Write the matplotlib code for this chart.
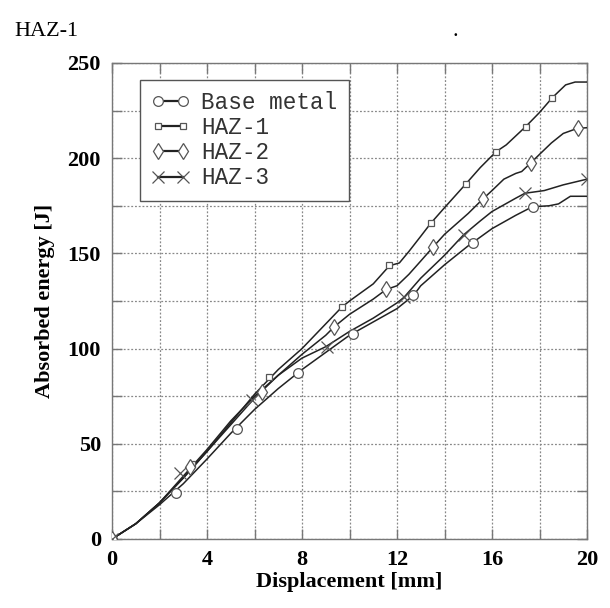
import matplotlib
matplotlib.use("Agg")
import matplotlib.pyplot as plt
from matplotlib.ticker import MultipleLocator

# ---- data ----
base_x = [0, 1, 2, 3, 4, 5, 6, 7, 8, 9, 10, 11, 12, 12.7, 13, 14, 15, 16, 17, 17.7, 18.4, 18.8, 19.3, 20]
base_y = [0, 8, 18, 29, 42, 55.5, 68, 79, 89, 98, 107, 114, 121, 128, 133, 144, 154, 163, 170, 174.5, 175, 176, 180, 180]
base_mx = [0, 2.69, 5.25, 7.82, 10.13, 12.69, 15.19, 17.71]
base_my = [0, 24.3, 58, 87.3, 107.5, 128.2, 155.3, 174.5]

haz1_x = [0, 1, 2, 3, 4, 5, 6, 7, 8, 9, 9.67, 10, 11, 11.68, 12.1, 12.5, 13, 13.42, 14, 14.9, 15.5, 16.17, 16.6, 17.42, 18, 18.54, 19.1, 19.5, 20]
haz1_y = [0, 8, 19, 32, 46, 61, 76, 89, 100, 113, 121.7, 125, 134, 143.5, 145, 151, 159, 165.8, 174, 186.5, 195, 203.4, 207, 216.6, 224, 231.8, 238.5, 240, 240]
haz1_mx = [0, 3.36, 6.62, 9.67, 11.68, 13.42, 14.9, 16.17, 17.42, 18.54]
haz1_my = [0, 39.2, 85.2, 121.7, 143.9, 165.8, 186.5, 203.4, 216.6, 231.8]

haz2_x = [0, 1, 2, 3, 4, 5, 6, 7, 8, 9, 9.36, 10, 11, 11.54, 12, 12.5, 13, 13.53, 14, 15, 15.6, 16, 16.5, 17, 17.25, 17.64, 18, 18.5, 19, 19.6, 20]
haz2_y = [0, 8, 19, 32, 46, 60, 74, 86, 97, 107, 111.5, 118, 126, 131, 133, 139, 146, 153.5, 160, 171, 178.4, 183, 189, 192, 193, 197.6, 202, 208, 213, 215.7, 216]
haz2_mx = [0, 3.3, 6.3, 9.36, 11.54, 13.53, 15.6, 17.64, 19.6]
haz2_my = [0, 38, 77, 111.5, 131.1, 153.5, 178.4, 197.6, 215.7]

haz3_x = [0, 1, 2, 3, 4, 5, 6, 7, 8, 9, 10, 11, 12, 12.3, 13, 14, 14.8, 15.5, 16, 17, 17.39, 18.2, 19, 20]
haz3_y = [0, 8, 19, 33, 47, 62, 75, 86, 95, 101, 109, 116, 124, 127, 137, 149, 159.7, 167, 172, 179, 181.6, 183, 186, 189]
haz3_mx = [0, 2.86, 5.9, 9.04, 12.3, 14.8, 17.39, 20]
haz3_my = [0, 34.8, 73, 101, 127, 159.7, 181.6, 189]

labels = ["Base metal", "HAZ-1", "HAZ-2", "HAZ-3"]
x_ticks = [0, 4, 8, 12, 16, 20]
y_ticks = [0, 50, 100, 150, 200, 250]

# ---- figure ----
fig = plt.figure(figsize=(6.10, 6.08), dpi=100)
ax = fig.add_axes([112/610, 1-539/608, 475/610, 476/608])

serif = "Liberation Serif"
lc = "#222222"
mc = "#555555"
series = [
    (base_x, base_y, base_mx, base_my, "o", 7, labels[0]),
    (haz1_x, haz1_y, haz1_mx, haz1_my, "s", 5, labels[1]),
    (haz2_x, haz2_y, haz2_mx, haz2_my, "d", 8.5, labels[2]),
    (haz3_x, haz3_y, haz3_mx, haz3_my, "x", 8, labels[3]),
]
handles = []
for x, y, mx, my, mk, ms, lab in series:
    ax.plot(x, y, color=lc, lw=1.1, zorder=3)
    ax.plot(mx, my, ls="none", marker=mk, ms=ms, mfc="white" if mk != "x" else "none",
            mec=mc, mew=0.9, zorder=4)
    h, = ax.plot([], [], color=lc, lw=1.6, marker=mk, ms=ms, mfc="white" if mk != "x" else "none",
                 mec=mc, mew=0.9, label=lab)
    handles.append(h)

ax.set_xlim(0, 20)
ax.set_ylim(0, 250)
ax.set_xticks(x_ticks)
ax.set_yticks(y_ticks)
ax.xaxis.set_minor_locator(MultipleLocator(2))
ax.yaxis.set_minor_locator(MultipleLocator(25))
ax.grid(True, which="both", ls=(0, (1.5, 1.5)), color="#888888", lw=0.9)
ax.tick_params(which="both", direction="in", top=True, right=True, length=7, width=1, color="#777777")
ax.tick_params(which="major", labelsize=16, pad=8)
for t in ax.get_xticklabels() + ax.get_yticklabels():
    t.set_fontfamily(serif)
    t.set_fontweight("bold")
for s in ax.spines.values():
    s.set_color("#777777")
    s.set_linewidth(1.0)

ax.set_xlabel("Displacement [mm]", fontfamily=serif, fontweight="bold", fontsize=16, labelpad=1)
ax.set_ylabel("Absorbed energy [J]", fontfamily=serif, fontweight="bold", fontsize=16, labelpad=9)

leg = ax.legend(handles=handles, loc="upper left", bbox_to_anchor=(28/475, 1-17/476),
                borderaxespad=0, numpoints=2, handlelength=1.7, handletextpad=0.5,
                labelspacing=0.09, borderpad=0.5, fancybox=False, framealpha=1,
                prop={"family": "Liberation Mono", "size": 16.3})
leg.get_frame().set_edgecolor("#555555")
leg.get_frame().set_linewidth(1.0)
for t in leg.get_texts():
    t.set_color("#333333")

fig.text(14/610, 1-32/608, "HAZ-1", fontfamily=serif, fontsize=16, va="center", ha="left")
fig.text(452/610, 1-32/608, ".", fontfamily=serif, fontsize=16, va="center", ha="left")

fig.savefig("out.png", dpi=100)
